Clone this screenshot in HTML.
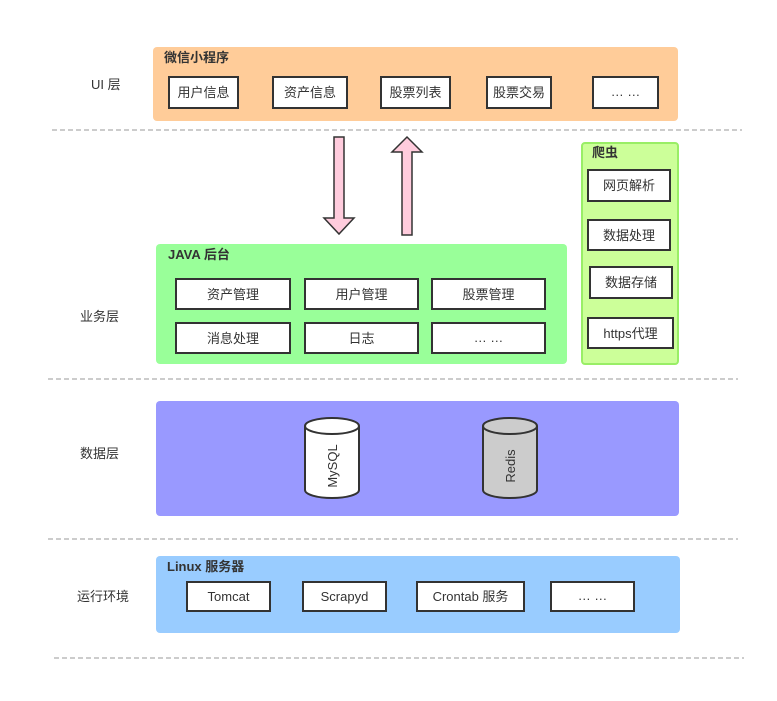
<!DOCTYPE html>
<html><head><meta charset="utf-8"><style>
html,body{margin:0;padding:0;background:#fff}
svg{display:block}
text{font-family:"Liberation Sans","Noto Sans CJK SC",sans-serif;fill:#333}
.t{font-size:13px}
.b{font-size:13px;font-weight:bold}
.bx{fill:#fff;stroke:#333;stroke-width:2}
.d{stroke:#999;stroke-width:1;stroke-dasharray:5,3}
</style></head><body>
<svg width="777" height="701" viewBox="0 0 777 701" xmlns="http://www.w3.org/2000/svg">
<line class="d" x1="52" y1="130" x2="742" y2="130"/>
<line class="d" x1="48" y1="379" x2="738" y2="379"/>
<line class="d" x1="48" y1="539" x2="738" y2="539"/>
<line class="d" x1="54" y1="658" x2="744" y2="658"/>

<text class="t" x="91" y="89">UI 层</text>
<text class="t" x="80" y="321">业务层</text>
<text class="t" x="80" y="458">数据层</text>
<text class="t" x="77" y="601">运行环境</text>

<!-- UI -->
<rect x="153" y="47" width="525" height="74" rx="4" fill="#ffcc99"/>
<text class="b" x="164" y="62">微信小程序</text>
<rect class="bx" x="169" y="77" width="69" height="31"/><text class="t" x="203.5" y="97" text-anchor="middle">用户信息</text>
<rect class="bx" x="273" y="77" width="74" height="31"/><text class="t" x="310" y="97" text-anchor="middle">资产信息</text>
<rect class="bx" x="381" y="77" width="69" height="31"/><text class="t" x="415.5" y="97" text-anchor="middle">股票列表</text>
<rect class="bx" x="487" y="77" width="64" height="31"/><text class="t" x="519" y="97" text-anchor="middle">股票交易</text>
<rect class="bx" x="593" y="77" width="65" height="31"/><text class="t" x="625.5" y="96" text-anchor="middle">… …</text>

<!-- arrows -->
<path d="M334 137 H344 V218 H354 L339 234 L324 218 H334 Z" fill="#ffccdd" stroke="#333" stroke-width="1.5"/>
<path d="M402 235 H412 V152 H422 L407 137 L392 152 H402 Z" fill="#ffccdd" stroke="#333" stroke-width="1.5"/>

<!-- crawler -->
<rect x="582" y="143" width="96" height="221" rx="3" fill="#ccff99" stroke="#99ee66" stroke-width="2"/>
<text class="b" x="592" y="157">爬虫</text>
<rect class="bx" x="588" y="170" width="82" height="31"/><text class="t" x="629" y="190" text-anchor="middle">网页解析</text>
<rect class="bx" x="588" y="220" width="82" height="30"/><text class="t" x="629" y="240" text-anchor="middle">数据处理</text>
<rect class="bx" x="590" y="267" width="82" height="31"/><text class="t" x="631" y="287" text-anchor="middle">数据存储</text>
<rect class="bx" x="588" y="318" width="85" height="30"/><text class="t" x="630.5" y="338" text-anchor="middle">https代理</text>

<!-- java -->
<rect x="156" y="244" width="411" height="120" rx="4" fill="#99ff99"/>
<text class="b" x="168" y="259">JAVA 后台</text>
<rect class="bx" x="176" y="279" width="114" height="30"/><text class="t" x="233" y="299" text-anchor="middle">资产管理</text>
<rect class="bx" x="305" y="279" width="113" height="30"/><text class="t" x="361.5" y="299" text-anchor="middle">用户管理</text>
<rect class="bx" x="432" y="279" width="113" height="30"/><text class="t" x="488.5" y="299" text-anchor="middle">股票管理</text>
<rect class="bx" x="176" y="323" width="114" height="30"/><text class="t" x="233" y="343" text-anchor="middle">消息处理</text>
<rect class="bx" x="305" y="323" width="113" height="30"/><text class="t" x="361.5" y="343" text-anchor="middle">日志</text>
<rect class="bx" x="432" y="323" width="113" height="30"/><text class="t" x="488.5" y="342" text-anchor="middle">… …</text>

<!-- data -->
<rect x="156" y="401" width="523" height="115" rx="4" fill="#9999ff"/>
<path d="M305 426 V490 A27 8 0 0 0 359 490 V426" fill="#fff" stroke="#333" stroke-width="2"/>
<ellipse cx="332" cy="426" rx="27" ry="8" fill="#fff" stroke="#333" stroke-width="2"/>
<text class="t" x="0" y="0" text-anchor="middle" transform="translate(337 466) rotate(-90)">MySQL</text>
<path d="M483 426 V490 A27 8 0 0 0 537 490 V426" fill="#cccccc" stroke="#333" stroke-width="2"/>
<ellipse cx="510" cy="426" rx="27" ry="8" fill="#cccccc" stroke="#333" stroke-width="2"/>
<text class="t" x="0" y="0" text-anchor="middle" transform="translate(515 466) rotate(-90)">Redis</text>

<!-- runtime -->
<rect x="156" y="556" width="524" height="77" rx="4" fill="#99ccff"/>
<text class="b" x="167" y="571">Linux 服务器</text>
<rect class="bx" x="187" y="582" width="83" height="29"/><text class="t" x="228.5" y="601" text-anchor="middle">Tomcat</text>
<rect class="bx" x="303" y="582" width="83" height="29"/><text class="t" x="344.5" y="601" text-anchor="middle">Scrapyd</text>
<rect class="bx" x="417" y="582" width="107" height="29"/><text class="t" x="470.5" y="601" text-anchor="middle">Crontab 服务</text>
<rect class="bx" x="551" y="582" width="83" height="29"/><text class="t" x="592.5" y="600" text-anchor="middle">… …</text>
</svg>
</body></html>
